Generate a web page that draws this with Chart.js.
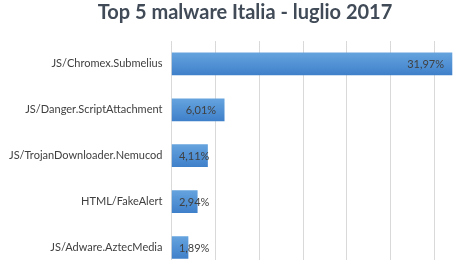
<!DOCTYPE html>
<html>
<head>
<meta charset="utf-8">
<script src="https://cdn.jsdelivr.net/npm/chart.js@4/dist/chart.umd.min.js"></script>
<style>
html,body{margin:0;padding:0;background:#fff;overflow:hidden;width:476px;height:260px;}
#wrap{position:absolute;left:0;top:0;width:476px;height:286px;}
</style>
</head>
<body>
<div id="wrap"><canvas id="c" width="476" height="286"></canvas></div>
<script>
const titleText = "Top 5 malware Italia - luglio 2017";
const categories = ["JS/Chromex.Submelius","JS/Danger.ScriptAttachment","JS/TrojanDownloader.Nemucod","HTML/FakeAlert","JS/Adware.AztecMedia"];
const values = [31.97, 6.01, 4.11, 2.94, 1.89];
const gridTicks = [0, 5, 10, 15, 20, 25, 30];

const FONT = "Lato, 'Open Sans', sans-serif";

const labelPlugin = {
  id: 'barLabels',
  afterDatasetsDraw(chart) {
    const ctx = chart.ctx;
    const meta = chart.getDatasetMeta(0);
    ctx.save();
    ctx.font = "11px " + FONT;
    ctx.fillStyle = "#404040";
    ctx.textBaseline = "middle";
    ctx.textAlign = "right";
    meta.data.forEach((bar, i) => {
      const txt = values[i].toFixed(2).replace('.', ',') + '%';
      const w = ctx.measureText(txt).width;
      const x = Math.max(bar.x - 8, bar.base + 7 + w);
      ctx.fillText(txt, x, bar.y + 1);
    });
    ctx.restore();
  }
};

const titlePlugin = {
  id: 'customTitle',
  afterDraw(chart) {
    const ctx = chart.ctx;
    ctx.save();
    ctx.font = "bold 20px " + FONT;
    ctx.fillStyle = "#414b58";
    ctx.textAlign = "center";
    ctx.textBaseline = "middle";
    ctx.fillText(titleText, 245, 13);
    ctx.restore();
  }
};

const ctx = document.getElementById('c').getContext('2d');
const chart = new Chart(ctx, {
  type: 'bar',
  data: {
    labels: categories,
    datasets: [{
      data: values,
      backgroundColor: (c) => {
        const ch = c.chart;
        const ys = ch.scales && ch.scales.y;
        if (!ys || !ch.chartArea || c.dataIndex === undefined) return '#5b9bd5';
        const y = ys.getPixelForValue(c.dataIndex);
        const h = 11;
        const g = ch.ctx.createLinearGradient(0, y - h, 0, y + h);
        g.addColorStop(0, '#65a3de');
        g.addColorStop(1, '#3f80ca');
        return g;
      },
      borderWidth: 0,
      barThickness: 22
    }]
  },
  options: {
    indexAxis: 'y',
    responsive: false,
    animation: false,
    devicePixelRatio: 1,
    layout: { padding: { left: 0, right: 15, top: 0, bottom: 8 } },
    plugins: {
      legend: { display: false },
      tooltip: { enabled: false },
      title: {
        display: true,
        text: titleText,
        color: 'rgba(0,0,0,0)',
        font: { family: FONT, size: 20, weight: 'bold' },
        padding: { top: 1, bottom: 16 }
      }
    },
    scales: {
      x: {
        min: 0,
        max: 33,
        afterBuildTicks: (axis) => { axis.ticks = gridTicks.map(v => ({ value: v })); },
        ticks: { display: false },
        border: { display: false },
        grid: { color: '#d9d9d9', drawTicks: false, lineWidth: 1 }
      },
      y: {
        ticks: { color: '#404040', font: { family: FONT, size: 11 }, padding: 9 },
        grid: { display: false, drawTicks: false },
        border: { display: false }
      }
    }
  },
  plugins: [labelPlugin, titlePlugin]
});
</script>
</body>
</html>
